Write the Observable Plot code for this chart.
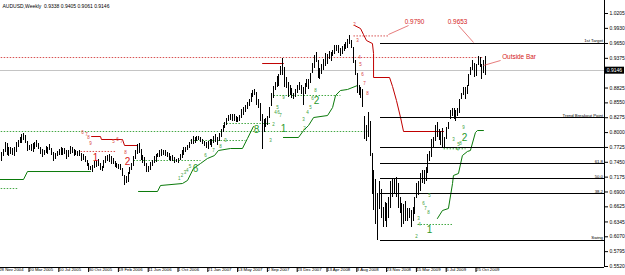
<!DOCTYPE html>
<html><head><meta charset="utf-8">
<script src="https://cdn.jsdelivr.net/npm/d3@7"></script>
<script src="https://cdn.jsdelivr.net/npm/@observablehq/plot@0.6"></script>
<style>
html,body{margin:0;padding:0;background:#fff;}
#chart{width:625px;height:275px;}
</style></head><body>
<div id="chart"></div>
<script>
// ---------- DATA ----------
const title = "AUDUSD,Weekly  0.9338 0.9405 0.9061 0.9146";
const lastClose = 0.9146;
const firstWeek = 1; // week index 0 = 28 Nov 2004
const lows = [
 0.7610,0.7470,0.7560,0.7640, 0.7580,0.7560,0.7600,0.7580, 0.7560,0.7640,0.7720,0.7790, 0.7790,0.7850,0.7800,0.7650,
 0.7670,0.7650,0.7640,0.7680,0.7730, 0.7680,0.7600,0.7540,0.7570, 0.7620,0.7600,0.7660,0.7580,0.7470, 0.7500,0.7550,0.7580,0.7580,
 0.7570,0.7590,0.7500,0.7530,0.7600, 0.7620,0.7560,0.7570,0.7560, 0.7550,0.7460,0.7480,0.7450, 0.7370,0.7300,0.7290,0.7260,0.7330,
 0.7350,0.7380,0.7300,0.7280, 0.7330,0.7420,0.7460,0.7450,0.7400, 0.7400,0.7360,0.7330,0.7310, 0.7300,0.7180,0.7020,0.7050,
 0.7080,0.7230,0.7300,0.7380, 0.7500,0.7600,0.7620,0.7480,0.7430, 0.7380,0.7260,0.7270,0.7300, 0.7380,0.7420,0.7450,0.7530,
 0.7540,0.7560,0.7580,0.7560,0.7530, 0.7480,0.7460,0.7470,0.7420, 0.7440,0.7430,0.7480,0.7520, 0.7580,0.7640,0.7660,0.7700,0.7780,
 0.7780,0.7790,0.7840,0.7850, 0.7820,0.7780,0.7740,0.7700,0.7690, 0.7760,0.7720,0.7800,0.7820, 0.7770,0.7840,0.7900,0.8000,
 0.8080,0.8140,0.8200,0.8230,0.8200, 0.8200,0.8180,0.8180,0.8200, 0.8270,0.8320,0.8380,0.8420, 0.8490,0.8560,0.8650,0.8680,0.8500,
 0.8440,0.8200,0.7680,0.8000, 0.8100,0.8130,0.8270,0.8480, 0.8640,0.8780,0.8840,0.8860,0.9060, 0.9050,0.8840,0.8820,0.8650,
 0.8680,0.8630,0.8610,0.8650, 0.8720,0.8780,0.8700,0.8510,0.8700, 0.8830,0.8800,0.8900,0.9090, 0.9180,0.9300,0.9000,0.8990,
 0.9070,0.9150,0.9220,0.9260,0.9360, 0.9320,0.9400,0.9450,0.9500, 0.9460,0.9400,0.9440,0.9500, 0.9530,0.9560,0.9640,0.9560,0.9280,
 0.9060,0.8720,0.8680,0.8640, 0.8460,0.7870,0.7830,0.7900, 0.7560,0.6850,0.6550,0.6300,0.6010, 0.6580,0.6400,0.6240,0.6350,
 0.6250,0.6400,0.6600,0.6800,0.6880, 0.6800,0.6600,0.6500,0.6250, 0.6300,0.6350,0.6350,0.6400, 0.6250,0.6360,0.6480,0.6780,
 0.6840,0.6900,0.7060,0.7030,0.7100, 0.7240,0.7460,0.7540,0.7700, 0.7840,0.7900,0.7850,0.7760, 0.7720,0.7700,0.7870,0.8050,0.8240,
 0.8300,0.8250,0.8200,0.8300, 0.8350,0.8620,0.8680,0.8610, 0.8700,0.8850,0.9050,0.9150,0.9020, 0.9040,0.9250,0.9200,0.8990,0.9100,
 0.9061
];
const highs = [
 0.7800,0.7640,0.7680,0.7820, 0.7800,0.7720,0.7720,0.7700, 0.7720,0.7820,0.7860,0.7900, 0.7960,0.7990,0.7950,0.7840,
 0.7760,0.7780,0.7800,0.7810,0.7850, 0.7800,0.7720,0.7680,0.7660, 0.7750,0.7720,0.7780,0.7700,0.7630, 0.7620,0.7650,0.7680,0.7720,
 0.7700,0.7700,0.7660,0.7670,0.7750, 0.7720,0.7680,0.7670,0.7650, 0.7670,0.7610,0.7600,0.7560, 0.7480,0.7420,0.7380,0.7390,0.7460,
 0.7480,0.7500,0.7420,0.7370, 0.7480,0.7560,0.7580,0.7600,0.7560, 0.7520,0.7470,0.7420,0.7410, 0.7400,0.7340,0.7200,0.7180,
 0.7260,0.7350,0.7420,0.7560, 0.7660,0.7780,0.7790,0.7680,0.7580, 0.7540,0.7420,0.7380,0.7450, 0.7480,0.7550,0.7590,0.7620,
 0.7660,0.7680,0.7670,0.7660,0.7640, 0.7620,0.7560,0.7570,0.7530, 0.7510,0.7520,0.7600,0.7660, 0.7720,0.7730,0.7760,0.7810,0.7880,
 0.7920,0.7900,0.7920,0.7930, 0.7910,0.7880,0.7840,0.7810,0.7830, 0.7880,0.7880,0.7920,0.7960, 0.7900,0.7980,0.8050,0.8130,
 0.8180,0.8260,0.8320,0.8330,0.8330, 0.8340,0.8300,0.8280,0.8320, 0.8420,0.8470,0.8500,0.8560, 0.8620,0.8720,0.8780,0.8790,0.8740,
 0.8620,0.8530,0.8330,0.8250, 0.8260,0.8290,0.8470,0.8720, 0.8850,0.8930,0.9040,0.9080,0.9230, 0.9370,0.9200,0.9020,0.8930,
 0.8880,0.8820,0.8720,0.8800, 0.8870,0.8920,0.8880,0.8830,0.8900, 0.8990,0.8980,0.9100,0.9280, 0.9420,0.9490,0.9330,0.9180,
 0.9260,0.9360,0.9460,0.9450,0.9500, 0.9480,0.9520,0.9610,0.9620, 0.9620,0.9560,0.9600,0.9640, 0.9660,0.9720,0.9790,0.9710,0.9570,
 0.9340,0.9100,0.8880,0.8830, 0.8790,0.8300,0.8140,0.8380, 0.8200,0.7620,0.7290,0.7130,0.6880, 0.7100,0.6950,0.6620,0.6700,
 0.6680,0.6800,0.7100,0.7150,0.7150, 0.7160,0.7050,0.6800,0.6680, 0.6660,0.6720,0.6600,0.6600, 0.6550,0.6620,0.6800,0.7050,
 0.7100,0.7250,0.7300,0.7300,0.7350, 0.7600,0.7650,0.7870,0.7900, 0.8140,0.8180,0.8060,0.8020, 0.8080,0.7900,0.8100,0.8190,0.8400,
 0.8450,0.8450,0.8400,0.8440, 0.8620,0.8720,0.8840,0.8830, 0.8880,0.9080,0.9200,0.9330,0.9280, 0.9270,0.9410,0.9390,0.9260,0.9330,
 0.9405
];
const tickWeeks = [0,16,32,48,64,80,96,112,128,144,160,176,192,208,224,240,256];
const tickLabels = ["28 Nov 2004","20 Mar 2005","10 Jul 2005","30 Oct 2005","19 Feb 2006","11 Jun 2006","1 Oct 2006","21 Jan 2007","13 May 2007","2 Sep 2007","23 Dec 2007","13 Apr 2008","3 Aug 2008","23 Nov 2008","15 Mar 2009","5 Jul 2009","25 Oct 2009"];
const priceTicks = [1.0205,0.9930,0.9650,0.9375,0.8825,0.8550,0.8275,0.8000,0.7725,0.7450,0.7175,0.6900,0.6625,0.6345,0.6070,0.5795,0.5520];

// horizontal study levels (start week, price, label)
const levelStartWeek = 205;
const levelPrices = [0.9650,0.8275,0.7718,0.7420,0.7143,0.6865,0.6010];
const levelLabels = ["1st Target","Trend Breakout Point","","61.8","50.0","38.2","Swing"];

// stepped stop lines: [week, price]
const redStops = [
 {id:"a", w:[50.4,55.2,55.7,67.0,68.1,75.1], p:[0.7927,0.7927,0.7872,0.7872,0.7761,0.7761]},
 {id:"b", w:[142.2,153.4], p:[0.9279,0.9279]},
 {id:"c", w:[191.6,194.8,196.4,198.0,201.2,201.8,201.8,210.4,212.0,214.1,216.3,217.9,239.4],
          p:[0.9983,0.9927,0.9816,0.9705,0.9649,0.9464,0.9020,0.9020,0.8853,0.8594,0.8279,0.8020,0.8020]}
];
const greenStops = [
 {id:"a", w:[0,13.85,16.0,49.8], p:[0.7131,0.7131,0.7279,0.7279]},
 {id:"b", w:[75.6,85.8,87.4,99.2,101.9,105.1,108.9,112.6,116.4,118.5,125.0,131.4,134.1,137.3],
          p:[0.6909,0.6909,0.7020,0.7057,0.7113,0.7335,0.7427,0.7520,0.7575,0.7668,0.7705,0.7705,0.7890,0.8112]},
 {id:"c", w:[153.4,161.5,164.2,166.9,169.6,177.1,179.8,181.4,184.0,187.8,193.2],
          p:[0.7909,0.7909,0.8038,0.8131,0.8279,0.8316,0.8464,0.8687,0.8779,0.8798,0.8872]},
 {id:"d", w:[236.1,238.8,242.0,244.2,244.7,247.4,249.5,252.2,253.8,256.5,257.6,260.8],
          p:[0.6409,0.6557,0.6594,0.7057,0.7205,0.7242,0.7575,0.7650,0.7668,0.8001,0.8038,0.8038]}
];
// dotted levels: [from week, to week, price]
const redDotted = [[0,260.3,0.9390],[191.0,209.8,0.9790],[44.5,63.8,0.7650]];
const greenDotted = [[0,198.5,0.8020],[0,10.6,0.6964],[72.9,108.9,0.7483],[103.5,133.0,0.7853],
                     [121.2,146.5,0.8168],[148.1,184.0,0.8687],[225.4,244.2,0.6298],[239.4,251.2,0.7700]];

// annotations
const redNotes = [{w:223.8,p:1.0044,t:"0.9790"},{w:246.9,p:1.0044,t:"0.9653"},{w:279.9,p:0.9396,t:"Outside Bar"}];
const redPointers = [{w1:209.8,p1:0.9816,w2:220.6,p2:0.9983},{w1:255.5,p1:0.9668,w2:247.4,p2:0.9983},{w1:260.8,p1:0.9242,w2:270.0,p2:0.9335}];
const redBig = [{w:52.5,p:0.7538,t:"1"},{w:69.7,p:0.7465,t:"2"}];
const greenBig = [{w:106.2,p:0.7335,t:"6"},{w:139.0,p:0.8057,t:"8"},{w:153.4,p:0.8075,t:"1"},{w:171.2,p:0.8594,t:"2"},
                  {w:231.8,p:0.6205,t:"1"},{w:250.6,p:0.7909,t:"2"}];
const redSmall = [{w:191.6,p:1.0001,t:"2"},{w:193.2,p:0.9705,t:"3"},{w:194.3,p:0.9390,t:"4"},{w:194.8,p:0.9260,t:"5"},
                  {w:195.9,p:0.9075,t:"6"},{w:197.0,p:0.8909,t:"7"},{w:198.5,p:0.8724,t:"8"},
                  {w:45.5,p:0.8001,t:"6"},{w:47.7,p:0.7964,t:"7"},{w:48.7,p:0.7909,t:"8"},{w:49.8,p:0.7798,t:"9"},
                  {w:62.2,p:0.7835,t:"5"},{w:64.3,p:0.7872,t:"6"},{w:66.5,p:0.7835,t:"7"},{w:68.6,p:0.7631,t:"8"}];
const greenSmall = [{w:97.5,p:0.7149,t:"1"},{w:99.0,p:0.7205,t:"2"},{w:100.5,p:0.7261,t:"3"},{w:101.8,p:0.7298,t:"4"},{w:103.2,p:0.7372,t:"5"},
                    {w:111.6,p:0.7575,t:"6"},{w:115.9,p:0.7668,t:"7"},{w:119.6,p:0.7742,t:"8"},{w:122.3,p:0.7853,t:"9"},
                    {w:148.1,p:0.8149,t:"2"},{w:146.5,p:0.7853,t:"3"},{w:149.2,p:0.8372,t:"4"},{w:150.2,p:0.8464,t:"5"},
                    {w:150.8,p:0.8372,t:"6"},{w:151.8,p:0.8316,t:"7"},{w:153.4,p:0.8649,t:"9"},
                    {w:164.7,p:0.8075,t:"2"},{w:164.2,p:0.8242,t:"3"},{w:166.3,p:0.8372,t:"4"},{w:167.9,p:0.8464,t:"5"},
                    {w:169.0,p:0.8631,t:"6"},{w:170.6,p:0.8779,t:"8"},
                    {w:224.9,p:0.6075,t:"2"},{w:225.9,p:0.6409,t:"3"},{w:226.5,p:0.6298,t:"4"},{w:228.6,p:0.6687,t:"6"},
                    {w:229.7,p:0.6594,t:"7"},{w:231.3,p:0.6520,t:"8"},{w:231.8,p:0.6835,t:"5"},
                    {w:244.7,p:0.7872,t:"3"},{w:246.9,p:0.7687,t:"4"},{w:247.4,p:0.7779,t:"5"},{w:248.5,p:0.7798,t:"8"},{w:250.1,p:0.8094,t:"9"}];

// ---------- BUILD ----------
const bars = lows.map((l, i) => ({week: firstWeek + i, low: l, high: highs[i]}));
const levels = levelPrices.map((p, i) => ({p, label: levelLabels[i]}));
const stopRows = (arr) => arr.flatMap(s => s.w.map((w, i) => ({id: s.id, w, p: s.p[i]})));
const dotRows = (arr) => arr.map(([w1, w2, p]) => ({w1, w2, p}));
const labelByWeek = new Map(tickWeeks.map((w, i) => [w, tickLabels[i]]));

const xDomain = [1.5, 325.8];
const yDomain = [0.55015, 1.0446];
const font = "Liberation Sans, Arial, sans-serif";

const chart = Plot.plot({
  width: 625, height: 275,
  marginTop: 0, marginRight: 21, marginBottom: 8, marginLeft: 0,
  style: {fontFamily: font, background: "#fff", overflow: "hidden"},
  x: {domain: xDomain, axis: null},
  y: {domain: yDomain, axis: null},
  marks: [
    Plot.ruleY([lastClose], {stroke: "#c4c4c4", strokeWidth: 1, shapeRendering: "crispEdges"}),
    Plot.link(dotRows(greenDotted), {x1: "w1", x2: "w2", y1: "p", y2: "p", stroke: "#2f9e2f", strokeWidth: 0.9, strokeDasharray: "1.5,1.5"}),
    Plot.link(dotRows(redDotted), {x1: "w1", x2: "w2", y1: "p", y2: "p", stroke: "#d23c3c", strokeWidth: 0.9, strokeDasharray: "1.5,1.5"}),
    Plot.line(stopRows(greenStops), {x: "w", y: "p", z: "id", stroke: "#0a7a0a", strokeWidth: 1, curve: "linear"}),
    Plot.line(stopRows(redStops), {x: "w", y: "p", z: "id", stroke: "#c00000", strokeWidth: 1, curve: "linear"}),
    Plot.ruleX(bars, {x: "week", y1: "low", y2: "high", stroke: "#000", strokeWidth: 1, shapeRendering: "crispEdges"}),
    Plot.link(levels, {x1: () => levelStartWeek, x2: () => xDomain[1], y1: "p", y2: "p", stroke: "#000", strokeWidth: 1, shapeRendering: "crispEdges"}),
    Plot.text(levels, {y: "p", frameAnchor: "right", text: "label", textAnchor: "end", dx: -1.5, dy: -2.6, fontSize: 4.3, fill: "#000"}),
    Plot.link(redPointers, {x1: "w1", y1: "p1", x2: "w2", y2: "p2", stroke: "#e05a5a", strokeWidth: 0.8}),
    Plot.text(redNotes, {x: "w", y: "p", text: "t", fill: "#d42020", fontSize: 6.4}),
    Plot.text(redBig, {x: "w", y: "p", text: "t", fill: "#d81818", fontSize: 10}),
    Plot.text(greenBig, {x: "w", y: "p", text: "t", fill: "#2a9a2a", fontSize: 10}),
    Plot.text(redSmall, {x: "w", y: "p", text: "t", fill: "#d84040", fontSize: 4.5}),
    Plot.text(greenSmall, {x: "w", y: "p", text: "t", fill: "#3aa03a", fontSize: 4.5}),
    Plot.ruleX([xDomain[1]], {stroke: "#000", strokeWidth: 1, shapeRendering: "crispEdges"}),
    Plot.ruleY([yDomain[0]], {stroke: "#000", strokeWidth: 1, shapeRendering: "crispEdges"}),
    Plot.axisY({anchor: "right", ticks: priceTicks, tickFormat: d => d.toFixed(4), tickSize: 3, tickPadding: 2, fontSize: 5, stroke: "#000"}),
    Plot.axisX({anchor: "bottom", ticks: tickWeeks, tickFormat: d => labelByWeek.get(d), tickSize: 5, tickPadding: -5, textAnchor: "start", dx: 1.5, fontSize: 4.3}),
    Plot.text([title], {frameAnchor: "top-left", dx: 2, dy: 3.5, fontSize: 5, fill: "#000", textAnchor: "start"})
  ]
});

// current price marker on the price axis
const ys = chart.scale("y");
const yy = ys.apply(lastClose);
const svg = d3.select(chart);
svg.append("rect").attr("x", 605).attr("y", yy - 3.5).attr("width", 19).attr("height", 7).attr("fill", "#000");
svg.append("text").attr("x", 614.5).attr("y", yy).attr("dy", "0.35em").attr("text-anchor", "middle")
   .attr("font-size", 5).attr("font-family", font).attr("fill", "#fff").text(lastClose.toFixed(4));

document.getElementById("chart").appendChild(chart);
</script>
</body></html>
